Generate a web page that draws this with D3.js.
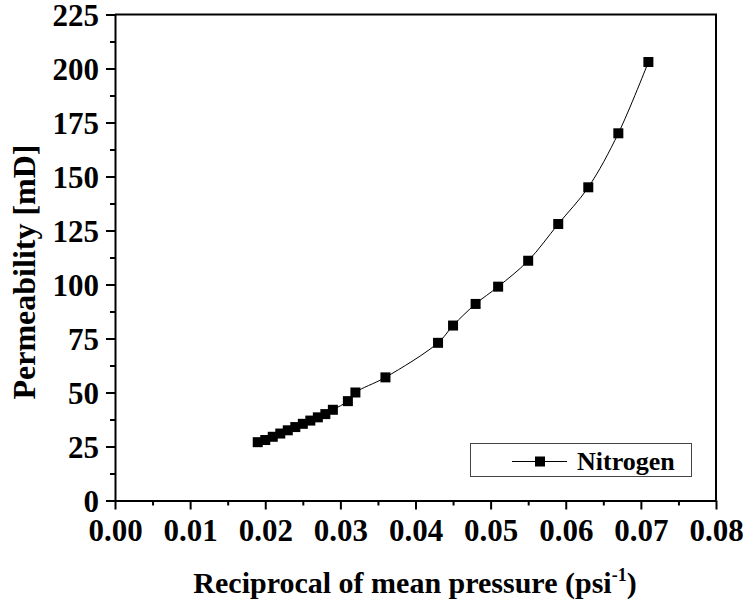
<!DOCTYPE html>
<html>
<head>
<meta charset="utf-8">
<script src="https://cdn.jsdelivr.net/npm/d3@7"></script>
<style>
  body { margin: 0; background: #fff; }
  svg text { font-family: "Liberation Serif", "Times New Roman", serif; font-weight: bold; fill: #000; }
</style>
</head>
<body>
<svg id="chart" width="743" height="609"></svg>
<script>
// reciprocal of mean pressure (1/psi)
const recipPressure = [0.019, 0.020, 0.021, 0.022, 0.023, 0.024, 0.025, 0.026, 0.027, 0.028, 0.029,
  0.031, 0.032, 0.036, 0.043, 0.045, 0.048, 0.051, 0.055, 0.059, 0.063, 0.067, 0.071];
// permeability (mD)
const permeability = [27, 28, 29.5, 31, 32.5, 34, 35.5, 37, 38.5, 40, 42,
  46, 50, 57, 73, 81, 91, 99, 111, 128, 145, 170, 203];
const xTicks = [0, 0.01, 0.02, 0.03, 0.04, 0.05, 0.06, 0.07, 0.08];
const yTicks = [0, 25, 50, 75, 100, 125, 150, 175, 200, 225];
const seriesName = "Nitrogen";

const data = recipPressure.map((x, i) => ({ x: x, y: permeability[i] }));

const plotLeft = 115, plotRight = 716, plotTop = 14.5, plotBottom = 500.5;
const svg = d3.select("#chart");

const x = d3.scaleLinear().domain([0, 0.08]).range([plotLeft, plotRight]);
const y = d3.scaleLinear().domain([0, 225]).range([plotBottom, plotTop]);

// minor ticks first
const xMinor = d3.range(0.005, 0.08, 0.01);
const yMinor = d3.range(12.5, 225, 25);

svg.append("g")
  .attr("transform", "translate(0," + plotBottom + ")")
  .call(d3.axisBottom(x).tickValues(xMinor).tickSize(5).tickFormat(""))
  .call(g => g.select(".domain").remove())
  .selectAll("line").attr("stroke-width", 2);

svg.append("g")
  .attr("transform", "translate(" + plotLeft + ",0)")
  .call(d3.axisLeft(y).tickValues(yMinor).tickSize(5).tickFormat(""))
  .call(g => g.select(".domain").remove())
  .selectAll("line").attr("stroke-width", 2);

// frame (top and right)
svg.append("path")
  .attr("d", "M" + plotLeft + "," + plotTop + "H" + plotRight + "V" + plotBottom)
  .attr("fill", "none")
  .attr("stroke", "#000")
  .attr("stroke-width", 2);

const xAxis = svg.append("g")
  .attr("transform", "translate(0," + plotBottom + ")")
  .call(d3.axisBottom(x).tickValues(xTicks).tickSize(9).tickSizeOuter(0).tickPadding(9)
    .tickFormat(d3.format(".2f")));
xAxis.select(".domain").attr("stroke-width", 2);
xAxis.selectAll("line").attr("stroke-width", 2);
xAxis.selectAll("text").style("font-size", "31px");

const yAxis = svg.append("g")
  .attr("transform", "translate(" + plotLeft + ",0)")
  .call(d3.axisLeft(y).tickValues(yTicks).tickSize(9).tickSizeOuter(0).tickPadding(7));
yAxis.select(".domain").attr("stroke-width", 2);
yAxis.selectAll("line").attr("stroke-width", 2);
yAxis.selectAll("text").style("font-size", "31px").attr("dy", "0.34em");

// series line
svg.append("path")
  .datum(data)
  .attr("fill", "none")
  .attr("stroke", "#000")
  .attr("stroke-width", 1)
  .attr("d", d3.line()
    .x(d => x(d.x))
    .y(d => y(d.y))
    .curve(d3.curveCatmullRom.alpha(0.5)));

const size = 10;
svg.selectAll("rect.pt")
  .data(data)
  .enter()
  .append("rect")
  .attr("class", "pt")
  .attr("x", d => x(d.x) - size / 2)
  .attr("y", d => y(d.y) - size / 2)
  .attr("width", size)
  .attr("height", size)
  .attr("fill", "#000");

// legend
const legend = svg.append("g");
legend.append("rect")
  .attr("x", 470.5).attr("y", 443.5)
  .attr("width", 221).attr("height", 33)
  .attr("fill", "#fff")
  .attr("stroke", "#444")
  .attr("stroke-width", 1);
legend.append("line")
  .attr("x1", 512).attr("x2", 567)
  .attr("y1", 461.5).attr("y2", 461.5)
  .attr("stroke", "#000").attr("stroke-width", 1);
legend.append("rect")
  .attr("x", 540 - size / 2).attr("y", 461.5 - size / 2)
  .attr("width", size).attr("height", size)
  .attr("fill", "#000");
legend.append("text")
  .attr("x", 577).attr("y", 470)
  .style("font-size", "26px")
  .text(seriesName);

// axis titles
const xTitle = svg.append("text")
  .attr("x", 415).attr("y", 593)
  .attr("text-anchor", "middle")
  .style("font-size", "30px");
xTitle.append("tspan").text("Reciprocal of mean pressure (psi");
xTitle.append("tspan").attr("dy", -12).style("font-size", "18px").text("-1");
xTitle.append("tspan").attr("dy", 12).text(")");

svg.append("text")
  .attr("transform", "translate(35," + 272 + ") rotate(-90)")
  .attr("text-anchor", "middle")
  .style("font-size", "32px")
  .text("Permeability [mD]");
</script>
</body>
</html>
